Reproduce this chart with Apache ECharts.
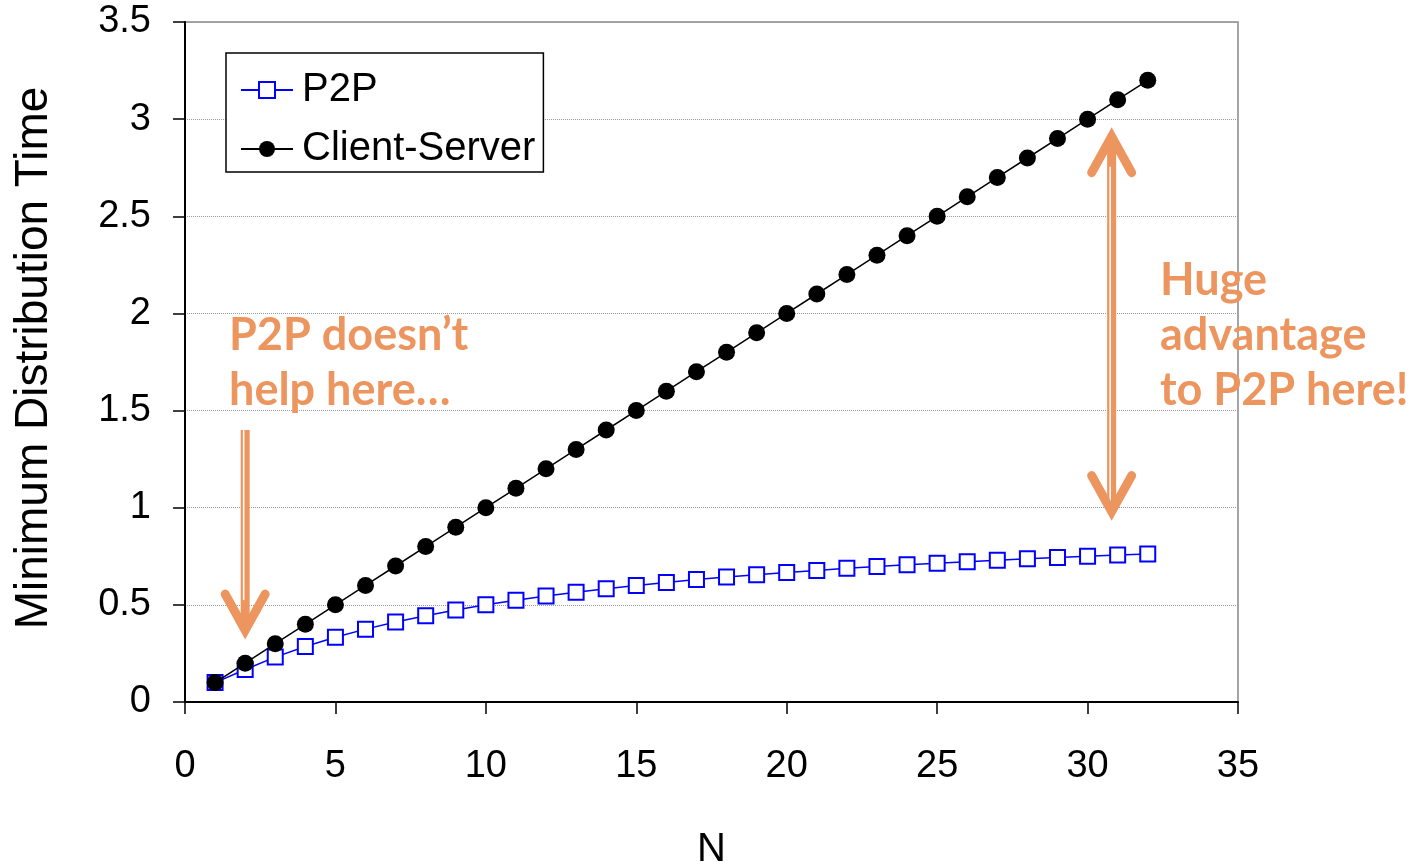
<!DOCTYPE html>
<html>
<head>
<meta charset="utf-8">
<script src="https://cdn.jsdelivr.net/npm/echarts@6/dist/echarts.min.js"></script>
<style>
  html, body { margin: 0; padding: 0; background: #fff; }
  #main { width: 1420px; height: 866px; }
</style>
</head>
<body>
<div id="main"></div>
<script>
// N values
const nValues = [1, 2, 3, 4, 5, 6, 7, 8, 9, 10, 11, 12, 13, 14, 15, 16,
  17, 18, 19, 20, 21, 22, 23, 24, 25, 26, 27, 28, 29, 30, 31, 32]
// P2P distribution time
const p2pTimes = [0.1, 0.167, 0.231, 0.286, 0.333, 0.375, 0.412, 0.444, 0.474, 0.5,
  0.524, 0.545, 0.565, 0.583, 0.6, 0.615, 0.63, 0.643, 0.655, 0.667, 0.677,
  0.688, 0.697, 0.706, 0.714, 0.722, 0.73, 0.737, 0.744, 0.75, 0.756, 0.762]
// client-server distribution time
const csTimes = [0.1, 0.2, 0.3, 0.4, 0.5, 0.6, 0.7, 0.8, 0.9, 1.0, 1.1, 1.2, 1.3,
  1.4, 1.5, 1.6, 1.7, 1.8, 1.9, 2.0, 2.1, 2.2, 2.3, 2.4, 2.5, 2.6, 2.7, 2.8,
  2.9, 3.0, 3.1, 3.2]
// axis ticks
const xTicks = [0, 35, 5]
const yTicks = [0, 3.5, 0.5]
// annotation arrows, in data units: [x, yFrom, yTo]
const leftArrow = [2, 1.4, 0.37]
const rightArrow = [30.8, 0.98, 2.91]

const orange = '#ED955F'
const font = '"Liberation Sans", Arial, sans-serif'
const calloutFont = 'Lato, "Open Sans", sans-serif'

const chart = echarts.init(document.getElementById('main'))

const option = {
  animation: false,
  grid: {
    left: 185,
    right: 182,
    top: 22,
    bottom: 164,
    outerBoundsMode: 'none',
    containLabel: false,
    show: true,
    borderColor: '#888',
    borderWidth: 1.5
  },
  legend: {
    orient: 'vertical',
    left: 226,
    top: 53,
    padding: [17, 8, 3, 14],
    itemGap: 19,
    itemWidth: 52,
    itemHeight: 20,
    backgroundColor: '#fff',
    borderColor: '#000',
    borderWidth: 1.5,
    borderRadius: 0,
    textStyle: { fontFamily: font, fontSize: 40, color: '#000', padding: [0, 0, 0, 4] },
    data: ['P2P', 'Client-Server']
  },
  xAxis: {
    type: 'value',
    min: xTicks[0],
    max: xTicks[1],
    interval: xTicks[2],
    name: 'N',
    nameLocation: 'middle',
    nameGap: 128,
    nameTextStyle: { fontFamily: font, fontSize: 40, color: '#000' },
    axisLine: { show: true, lineStyle: { color: '#000', width: 2 } },
    axisTick: { show: true, length: 12, lineStyle: { color: '#000', width: 1.5 } },
    axisLabel: { margin: 46, fontFamily: font, fontSize: 38, color: '#000' },
    splitLine: { show: false }
  },
  yAxis: {
    type: 'value',
    min: yTicks[0],
    max: yTicks[1],
    interval: yTicks[2],
    name: 'Minimum Distribution Time',
    nameLocation: 'middle',
    nameRotate: 90,
    nameGap: 128,
    nameTextStyle: { fontFamily: font, fontSize: 46, color: '#000', padding: [0, 0, 0, 8] },
    axisLine: { show: true, lineStyle: { color: '#000', width: 2 } },
    axisTick: { show: true, length: 12, lineStyle: { color: '#000', width: 1.5 } },
    axisLabel: { margin: 34, fontFamily: font, fontSize: 38, color: '#000' },
    splitLine: { show: true, lineStyle: { color: '#999', width: 1, type: 'dotted' } }
  },
  series: [
    {
      name: 'P2P',
      type: 'line',
      data: nValues.map((n, i) => [n, p2pTimes[i]]),
      symbol: 'rect',
      symbolSize: 15,
      lineStyle: { color: '#0000FF', width: 1.5 },
      itemStyle: { color: '#fff', borderColor: '#0000FF', borderWidth: 2 },
      z: 3
    },
    {
      name: 'Client-Server',
      type: 'line',
      data: nValues.map((n, i) => [n, csTimes[i]]),
      symbol: 'circle',
      symbolSize: 17,
      lineStyle: { color: '#000', width: 1.5 },
      itemStyle: { color: '#000' },
      z: 4
    }
  ]
}
chart.setOption(option)

// 箭头：粗线 + 中间细白线 + V形箭头
const makeArrow = (x, yFrom, yTo, heads) => {
  const p1 = chart.convertToPixel({ gridIndex: 0 }, [x, yFrom])
  const p2 = chart.convertToPixel({ gridIndex: 0 }, [x, yTo])
  const dir = p2[1] > p1[1] ? 1 : -1
  const els = [
    { type: 'line', shape: { x1: p1[0], y1: p1[1], x2: p2[0], y2: p2[1] - dir * 6 },
      style: { stroke: orange, lineWidth: 9 } },
    { type: 'line', shape: { x1: p1[0] - 1.5, y1: p1[1], x2: p2[0] - 1.5, y2: p2[1] - dir * 30 },
      style: { stroke: '#fff', lineWidth: 1.5 } }
  ]
  const head = (pt, d) => ({
    type: 'polyline',
    shape: { points: [[pt[0] - 20, pt[1] - d * 36], [pt[0], pt[1]], [pt[0] + 20, pt[1] - d * 36]] },
    style: { stroke: orange, lineWidth: 9, lineCap: 'round', lineJoin: 'miter', fill: null }
  })
  els.push(head(p2, dir))
  if (heads === 2) els.push(head(p1, -dir))
  return { type: 'group', children: els, z: 10 }
}

const callout = (left, top, size, text) => ({
  type: 'text',
  left: left,
  top: top,
  z: 10,
  style: {
    text: text,
    fill: orange,
    font: 'bold ' + size + 'px ' + calloutFont,
    lineHeight: 55
  }
})

chart.setOption({
  graphic: [
    makeArrow(leftArrow[0], leftArrow[1], leftArrow[2], 1),
    makeArrow(rightArrow[0], rightArrow[1], rightArrow[2], 2),
    callout(229, 308, 45, 'P2P doesn’t\nhelp here…'),
    callout(1160, 253, 45, 'Huge\nadvantage\nto P2P here!')
  ]
})
</script>
</body>
</html>
